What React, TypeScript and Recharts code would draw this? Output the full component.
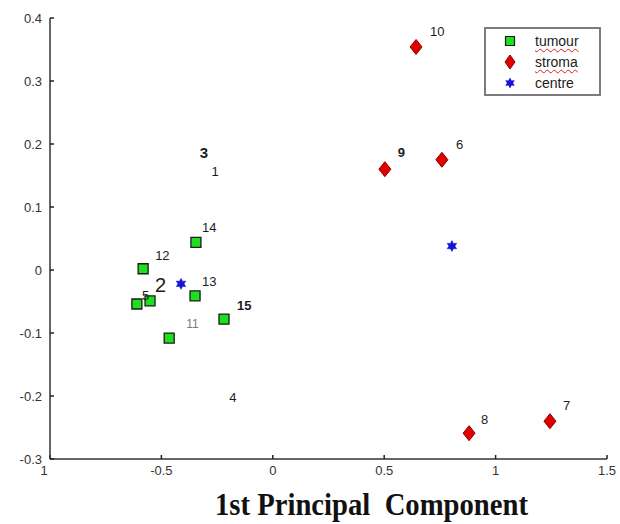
import React from "react";
import { ScatterChart, Scatter, XAxis, YAxis, Legend, Label } from "recharts";

// sample ids and the first two principal component scores
const tumourIds = ["2", "5", "11", "12", "13", "14", "15"];
const tumourX = [-0.551, -0.61, -0.465, -0.582, -0.349, -0.345, -0.219];
const tumourY = [-0.049, -0.054, -0.108, 0.002, -0.041, 0.044, -0.078];

const stromaIds = ["6", "7", "8", "9", "10"];
const stromaX = [0.759, 1.244, 0.881, 0.503, 0.643];
const stromaY = [0.175, -0.24, -0.259, 0.16, 0.354];

const centreX = [-0.412, 0.804];
const centreY = [-0.022, 0.038];

// samples that show only their number
const otherIds = ["1", "3", "4"];
const otherX = [-0.259, -0.309, -0.179];
const otherY = [0.156, 0.187, -0.202];

const xTicks = [-1, -0.5, 0, 0.5, 1, 1.5];
const yTicks = [-0.3, -0.2, -0.1, 0, 0.1, 0.2, 0.3, 0.4];

const legendItems = ["tumour", "stroma", "centre"];

const zip = (ids: string[], xs: number[], ys: number[]) =>
  xs.map((x, i) => ({ x, y: ys[i], id: ids[i] }));

const tumour = zip(tumourIds, tumourX, tumourY);
const stroma = zip(stromaIds, stromaX, stromaY);
const centre = zip(["", ""], centreX, centreY);
const others = zip(otherIds, otherX, otherY);

const FONT = "'Liberation Sans', Arial, sans-serif";

type LS = { dx: number; dy: number; size?: number; weight?: number; fill?: string };
const labelStyle: Record<string, LS> = {
  "1": { dx: 0, dy: 0, size: 13 },
  "3": { dx: 0, dy: 0, size: 15, weight: 700 },
  "4": { dx: 0, dy: 0, size: 13 },
  "2": { dx: 5, dy: -16, size: 20 },
  "5": { dx: 5, dy: -9 },
  "11": { dx: 17, dy: -14, size: 12, fill: "#7a7a7a" },
  "12": { dx: 12, dy: -13 },
  "13": { dx: 7, dy: -14 },
  "14": { dx: 6, dy: -15 },
  "15": { dx: 13, dy: -14, weight: 700 },
  "6": { dx: 14, dy: -15 },
  "7": { dx: 13, dy: -16 },
  "8": { dx: 12, dy: -14 },
  "9": { dx: 13, dy: -17, weight: 700 },
  "10": { dx: 14, dy: -15 },
};

const Num = ({ cx, cy, id, anchor }: { cx: number; cy: number; id: string; anchor: string }) => {
  const s = labelStyle[id];
  if (!s) return null;
  return (
    <text
      x={cx + s.dx}
      y={cy + s.dy}
      textAnchor={anchor as any}
      dominantBaseline="central"
      fontFamily={FONT}
      fontSize={s.size || 13}
      fontWeight={s.weight || 400}
      fill={s.fill || "#1c1c1c"}
    >
      {id}
    </text>
  );
};

const squarePath = (cx: number, cy: number, h: number) =>
  `M${cx - h},${cy - h}H${cx + h}V${cy + h}H${cx - h}Z`;
const diamondPath = (cx: number, cy: number, w: number, h: number) =>
  `M${cx},${cy - h}L${cx + w},${cy}L${cx},${cy + h}L${cx - w},${cy}Z`;
const starPath = (cx: number, cy: number, r: number) => {
  let d = "";
  for (let i = 0; i < 12; i++) {
    const a = (Math.PI / 6) * i - Math.PI / 2;
    const rr = i % 2 === 0 ? r : r * 0.55;
    d += `${i === 0 ? "M" : "L"}${cx + rr * Math.cos(a)},${cy + rr * Math.sin(a)}`;
  }
  return d + "Z";
};

const SquareShape = (p: any) => (
  <g>
    <path d={squarePath(p.cx, p.cy, 5)} fill="#1fe01f" stroke="#1a1a1a" strokeWidth={1.3} />
    <Num cx={p.cx} cy={p.cy} id={p.payload.id} anchor="start" />
  </g>
);

const DiamondShape = (p: any) => (
  <g>
    <path d={diamondPath(p.cx, p.cy, 6, 7.5)} fill="#e00000" stroke="#8a0000" strokeWidth={1} />
    <Num cx={p.cx} cy={p.cy} id={p.payload.id} anchor="start" />
  </g>
);

const StarShape = (p: any) => <path d={starPath(p.cx, p.cy, 5.5)} fill="#1414d2" stroke="#1414d2" strokeWidth={0.5} />;

const TextOnly = (p: any) => <Num cx={p.cx} cy={p.cy} id={p.payload.id} anchor="middle" />;

const legendMarker = (name: string) => {
  if (name === "tumour") return <path d={squarePath(8, 8, 4.5)} fill="#1fe01f" stroke="#1a1a1a" strokeWidth={1.2} />;
  if (name === "stroma") return <path d={diamondPath(8, 8, 5, 7)} fill="#e00000" stroke="#8a0000" />;
  return <path d={starPath(8, 8, 5.5)} fill="#1414d2" />;
};

const LegendBox = () => (
  <div
    style={{
      position: "relative",
      width: 117,
      height: 69,
      boxSizing: "border-box",
      border: "2px solid #7c7c7c",
      background: "#fff",
      fontFamily: FONT,
      fontSize: 14,
      color: "#1c1c1c",
    }}
  >
    {legendItems.map((name, i) => (
      <div key={name} style={{ position: "absolute", left: 16, top: 3 + i * 21, height: 18, display: "flex", alignItems: "center" }}>
        <svg width={16} height={16}>{legendMarker(name)}</svg>
        <span
          style={{
            marginLeft: 17,
            lineHeight: "18px",
            textDecoration: name === "centre" ? "none" : "underline wavy #d42020",
            textDecorationThickness: 1,
            textUnderlineOffset: 2,
          }}
        >
          {name}
        </span>
      </div>
    ))}
  </div>
);

const XTick = (p: any) => {
  const v = p.payload.value;
  const text = v === -1 ? "1" : String(v);
  return (
    <text x={p.x + (v === -1 ? -6 : 0)} y={p.y} dy="0.71em" textAnchor="middle" fontFamily={FONT} fontSize={13} fill="#333">
      {text}
    </text>
  );
};

export default function App() {
  return (
    <div style={{ width: 620, height: 524, background: "#fff" }}>
      <style>{"body{margin:0}"}</style>
      <ScatterChart width={620} height={524} margin={{ top: 18, right: 13, bottom: 0, left: 0 }}>
        <XAxis
          type="number"
          dataKey="x"
          domain={[-1, 1.5]}
          ticks={xTicks}
          height={65}
          axisLine={{ stroke: "#333", strokeWidth: 1.5 }}
          tickLine={{ stroke: "#222", strokeWidth: 1.5 }}
          tickSize={-4}
          tickMargin={11}
          tick={<XTick />}
          allowDataOverflow
        >
          <Label
            content={(props: any) => {
              const vb = props.viewBox;
              return (
                <text
                  x={vb.x + vb.width / 2 + 43}
                  y={vb.y + 56}
                  textAnchor="middle"
                  fontFamily="'Liberation Serif', 'Times New Roman', serif"
                  fontWeight={700}
                  fontSize={31}
                  textLength={313}
                  lengthAdjust="spacingAndGlyphs"
                  fill="#111"
                  style={{ whiteSpace: "pre" }}
                >
                  {"1st Principal  Component"}
                </text>
              );
            }}
          />
        </XAxis>
        <YAxis
          type="number"
          dataKey="y"
          domain={[-0.3, 0.4]}
          ticks={yTicks}
          width={50}
          axisLine={{ stroke: "#333", strokeWidth: 1.5 }}
          tickLine={{ stroke: "#222", strokeWidth: 1.5 }}
          tickSize={-4}
          tickMargin={12}
          tick={{ fontFamily: FONT, fontSize: 13, fill: "#333" }}
          allowDataOverflow
        />
        <Legend
          layout="horizontal"
          verticalAlign="middle"
          align="center"
          content={<LegendBox />}
          wrapperStyle={{ position: "absolute", left: 484, top: 27, width: 117 }}
        />
        <Scatter name="others" data={others} shape={TextOnly} legendType="none" isAnimationActive={false} />
        <Scatter name="tumour" data={tumour} shape={SquareShape} isAnimationActive={false} />
        <Scatter name="stroma" data={stroma} shape={DiamondShape} isAnimationActive={false} />
        <Scatter name="centre" data={centre} shape={StarShape} isAnimationActive={false} />
      </ScatterChart>
    </div>
  );
}
